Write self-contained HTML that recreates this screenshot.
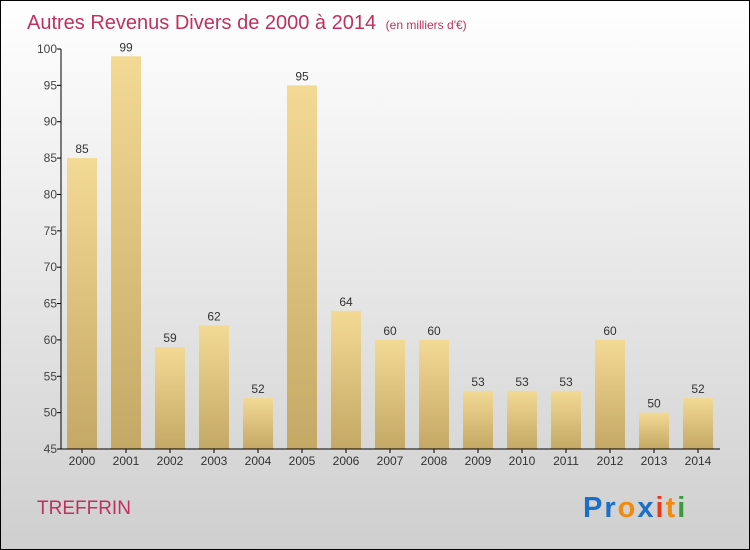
<!DOCTYPE html>
<html><head><meta charset="utf-8"><style>
body{margin:0}
svg{display:block;font-family:"Liberation Sans",sans-serif}
</style></head><body>
<svg width="750" height="550">
<defs>
<linearGradient id="bg" x1="0" y1="0" x2="0" y2="1"><stop offset="0" stop-color="#ffffff"/><stop offset="1" stop-color="#cfcfcf"/></linearGradient>
<linearGradient id="bar" x1="0" y1="0" x2="0" y2="1"><stop offset="0" stop-color="#f3da94"/><stop offset="1" stop-color="#c4a865"/></linearGradient>
</defs>
<rect x="0.5" y="0.5" width="749" height="549" fill="url(#bg)" stroke="#000"/>
<text x="27" y="29" font-size="20" fill="#c0305e">Autres Revenus Divers de 2000 à 2014 <tspan font-size="12" dx="4">(en milliers d'€)</tspan></text>
<g id="plot"></g>
<text x="37" y="514" font-size="19" fill="#c0305e">TREFFRIN</text>
<text x="583" y="517" font-size="29" font-weight="bold" letter-spacing="2"><tspan fill="#1a6fc9">Pr</tspan><tspan fill="#f08a10">o</tspan><tspan fill="#1a6fc9">x</tspan><tspan fill="#e83a1a">i</tspan><tspan fill="#f08a10">t</tspan><tspan fill="#3a9a3a">i</tspan></text>
</svg>
<script>
const years=["2000","2001","2002","2003","2004","2005","2006","2007","2008","2009","2010","2011","2012","2013","2014"];
const values=[85,99,59,62,52,95,64,60,60,53,53,53,60,50,52];
const yTicks=[45,50,55,60,65,70,75,80,85,90,95,100];
const NS="http://www.w3.org/2000/svg";
const g=document.getElementById("plot");
const y0=449,y1=49,vmin=45,vmax=100;
const yS=v=>y0-(v-vmin)/(vmax-vmin)*(y0-y1);
const xS=i=>82+i*44;
function mk(t,a,txt){const e=document.createElementNS(NS,t);for(const k in a)e.setAttribute(k,a[k]);if(txt!=null)e.textContent=txt;g.appendChild(e);return e;}
yTicks.forEach(v=>{
 const l=mk("line",{x1:57,x2:61,y1:yS(v),y2:yS(v),stroke:"#000"});
 
 
 const t=mk("text",{x:57,y:yS(v)+4,"text-anchor":"end","font-size":12,fill:"#444"},v);
 
 
});
years.forEach((yr,i)=>{
 const v=values[i],x=xS(i);
 const r=mk("rect",{x:x-15,y:yS(v),width:30,height:y0-yS(v),fill:"url(#bar)"});
 
 
 const t=mk("text",{x:x,y:yS(v)-5,"text-anchor":"middle","font-size":12,fill:"#333"},v);
 
 
 const tk=mk("line",{x1:x,x2:x,y1:y0,y2:y0+4,stroke:"#000"});
 
 
 const xl=mk("text",{x:x,y:465,"text-anchor":"middle","font-size":12,fill:"#333"},yr);
 
 
});
const ya=mk("line",{x1:61,x2:61,y1:y1,y2:y0,stroke:"#000"});


const xa=mk("line",{x1:61,x2:720,y1:y0,y2:y0,stroke:"#000"});


</script>
</body></html>
